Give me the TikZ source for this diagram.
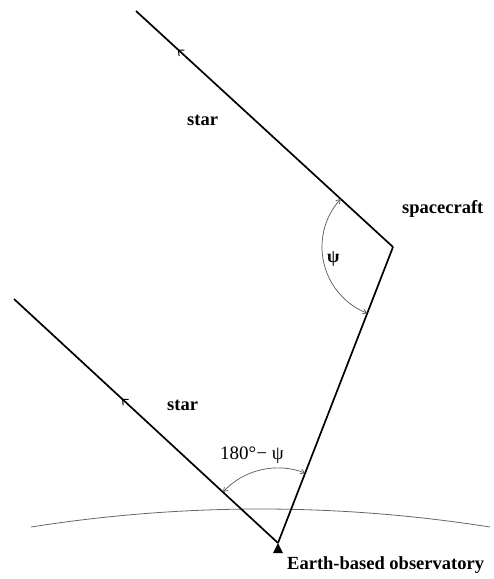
\documentclass[tikz,border=0pt]{standalone}
\usepackage{fontspec}
\setmainfont{Liberation Serif}
\usetikzlibrary{arrows.meta,decorations.markings}
\tikzset{
  ray/.style={line width=1.7pt, black},
  raymark/.style={postaction={decorate}, decoration={markings,
     mark=at position #1 with {\arrow[line width=1pt]{Straight Barb[length=4.5pt,width=8pt]}}}},
  anglearc/.style={line width=0.7pt, black!65, {Straight Barb[length=4pt,width=5pt]}-{Straight Barb[length=4pt,width=5pt]}},
  earth/.style={line width=0.8pt, black!60},
  lbl/.style={font=\fontsize{18.5}{20}\selectfont\bfseries, inner sep=0pt, anchor=base west},
  lblr/.style={font=\fontsize{19}{20}\selectfont, inner sep=0pt, anchor=base west},
}
\begin{document}
\begin{tikzpicture}[x=1pt,y=-1pt]
\useasboundingbox (0,0) rectangle (494,579);
\coordinate (S1) at (136,11);
\coordinate (SC) at (393,247);
\coordinate (OB) at (278,543);
\coordinate (S2) at (14,299);
\coordinate (E1) at (31,527);
\coordinate (E2) at (490,527);
% earth surface
\draw[earth] (E1) .. controls (184,503) and (337,503) .. (E2);
% rays
\draw[ray, raymark=0.837] (SC) -- (S1);
\draw[ray] (OB) -- (SC);
\draw[ray, raymark=0.591] (OB) -- (S2);
% angle arcs
\draw[anglearc] (SC) ++(222.56:71) arc[start angle=222.56, end angle=111.23, radius=71];
\draw[anglearc] (OB) ++(222.86:75) arc[start angle=222.86, end angle=291.23, radius=75];
% observatory marker
\fill (OB) -- ++(-5,10) -- ++(10,0) -- cycle;
% labels
\node[lbl] (star1) at (187,125) {star};
\node[lbl] (star2) at (167,410) {star};
\node[lbl] (sc) at (402,213) {spacecraft};
\node[lbl] (obs) at (287,569) {Earth-based observatory};
\node[lblr, font=\fontsize{18}{20}\selectfont\bfseries] (psi) at (327,262) {ψ};
\node[lblr] (ang) at (220,459) {180°− ψ};
\end{tikzpicture}
\end{document}
